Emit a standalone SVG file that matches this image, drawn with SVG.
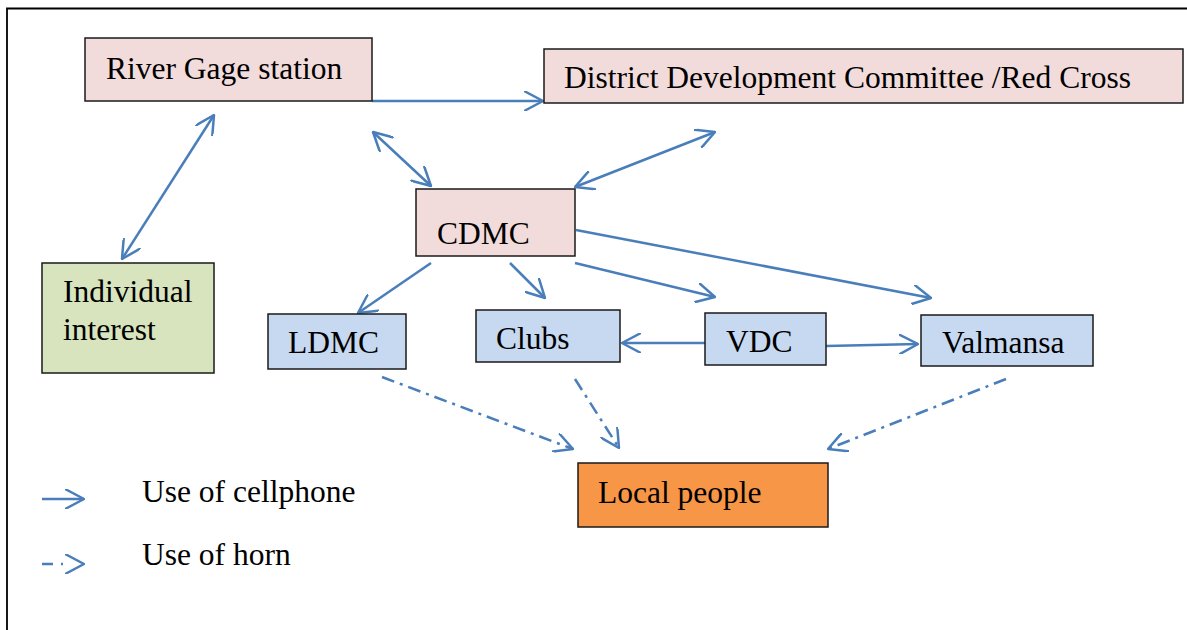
<svg xmlns="http://www.w3.org/2000/svg" width="1187" height="630" viewBox="0 0 1187 630">
  <style>
    .box { stroke: #1a1a1a; stroke-width: 1.5; }
    .pink { fill: #f2dcdb; }
    .green { fill: #d7e4bd; }
    .blue { fill: #c6d9f1; }
    .orange { fill: #f79646; }
    .lbl { font-size: 31.5px; fill: #000; }
    .link { fill: none; stroke: #4a7ebb; stroke-width: 2.5; }
    .horn { stroke-dasharray: 13 6 3 6; }
  </style>
  <defs>
    <marker id="head" viewBox="0 0 20 20" refX="19" refY="10" markerWidth="20" markerHeight="20" markerUnits="userSpaceOnUse" orient="auto-start-reverse">
      <path d="M1,0.5 L19,10 L1,19.5" fill="none" stroke="#4a7ebb" stroke-width="2.5" stroke-linecap="round" stroke-linejoin="round"/>
    </marker>
  </defs>

  <rect width="1187" height="630" fill="#fff"/>
  <!-- page frame -->
  <path d="M7,640 L7,8.5 L1195,8.5" fill="none" stroke="#000" stroke-width="1.8"/>

  <g id="connectors">
    <path class="link" d="M372,101 L543,101" marker-end="url(#head)"/>
    <path class="link" d="M373,132 L431,186" marker-start="url(#head)" marker-end="url(#head)"/>
    <path class="link" d="M715,132 L575,187" marker-start="url(#head)" marker-end="url(#head)"/>
    <path class="link" d="M214,115 L122,259" marker-start="url(#head)" marker-end="url(#head)"/>
    <path class="link" d="M431,263 L358,313" marker-end="url(#head)"/>
    <path class="link" d="M510,263 L545,298" marker-end="url(#head)"/>
    <path class="link" d="M575,263 L715,297" marker-end="url(#head)"/>
    <path class="link" d="M576,230 L931,298" marker-end="url(#head)"/>
    <path class="link" d="M705,343 L622,343" marker-end="url(#head)"/>
    <path class="link" d="M826,346 L918,344" marker-end="url(#head)"/>
    <path class="link horn" d="M382,377 L573,449" marker-end="url(#head)"/>
    <path class="link horn" d="M575,379 L619,448" marker-end="url(#head)"/>
    <path class="link horn" d="M1006,379 L828,449" marker-end="url(#head)"/>
  </g>

  <g font-family="'Liberation Serif', Tinos, 'Times New Roman', 'DejaVu Serif', serif">
    <g id="river-gage">
      <rect class="box pink" x="85" y="38" width="287" height="63"/>
      <text class="lbl" x="106" y="79">River Gage station</text>
    </g>
    <g id="ddc-red-cross">
      <rect class="box pink" x="544" y="49" width="639" height="54"/>
      <text class="lbl" x="564" y="88">District Development Committee /Red Cross</text>
    </g>
    <g id="cdmc">
      <rect class="box pink" x="416" y="189" width="159" height="67"/>
      <text class="lbl" x="437" y="244">CDMC</text>
    </g>
    <g id="individual-interest">
      <rect class="box green" x="42" y="263" width="172" height="110"/>
      <text class="lbl" x="63" y="302">Individual</text>
      <text class="lbl" x="63" y="340">interest</text>
    </g>
    <g id="ldmc">
      <rect class="box blue" x="268" y="314" width="138" height="55"/>
      <text class="lbl" x="288" y="353">LDMC</text>
    </g>
    <g id="clubs">
      <rect class="box blue" x="476" y="310" width="144" height="52"/>
      <text class="lbl" x="496" y="349">Clubs</text>
    </g>
    <g id="vdc">
      <rect class="box blue" x="705" y="313" width="121" height="52"/>
      <text class="lbl" x="726" y="352">VDC</text>
    </g>
    <g id="valmansa">
      <rect class="box blue" x="921" y="315" width="172" height="51"/>
      <text class="lbl" x="942" y="353">Valmansa</text>
    </g>
    <g id="local-people">
      <rect class="box orange" x="578" y="463" width="250" height="64"/>
      <text class="lbl" x="598" y="503">Local people</text>
    </g>

    <g id="legend">
      <path class="link" d="M42,499 L84,499" marker-end="url(#head)"/>
      <text class="lbl" x="142" y="502">Use of cellphone</text>
      <path class="link" d="M42,564 L84,564" stroke-dasharray="11 8 2 40" marker-end="url(#head)"/>
      <text class="lbl" x="142" y="565">Use of horn</text>
    </g>
  </g>
</svg>
